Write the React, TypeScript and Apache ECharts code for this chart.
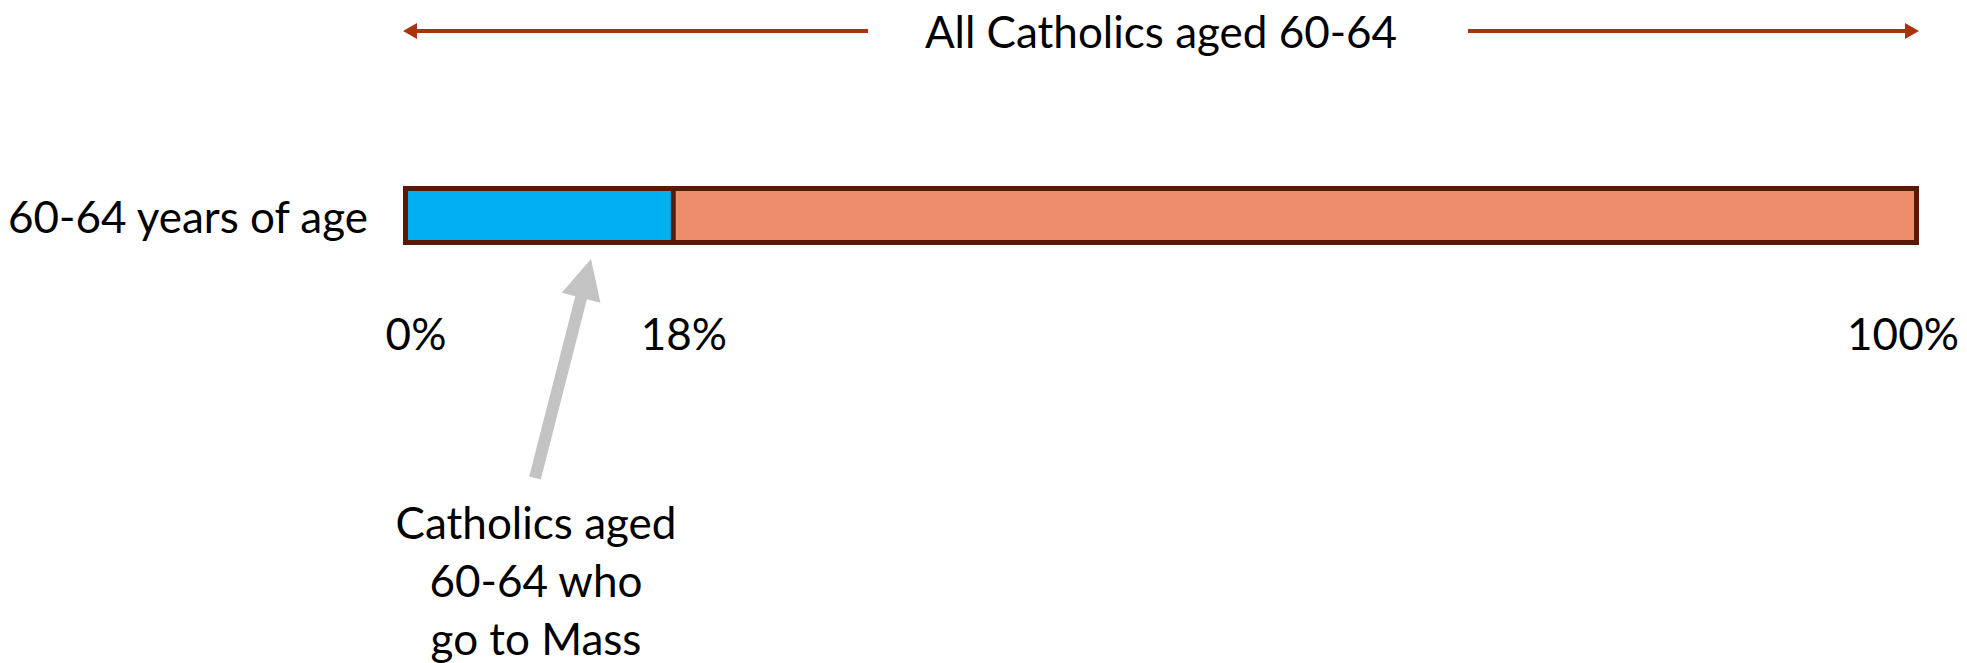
import React, { useEffect, useRef } from "react";
import * as echarts from "echarts";

const categories = ["60-64 years of age"];
const attendValues = [18];
const restValues = [82];
const totalValues = [100];
const tickValues = [0, 18, 100];
const titleText = "All Catholics aged 60-64";
const noteText = "Catholics aged\n60-64 who\ngo to Mass";

const FONT = "Lato, 'Noto Sans', sans-serif";
const FS = 44;
const RED = "#A9340B";
const BORDER = "#5A1806";

export default function App() {
  const ref = useRef<HTMLDivElement>(null);
  useEffect(() => {
    const chart = echarts.init(ref.current!, null, { renderer: "svg" });
    chart.setOption({
      animation: false,
      grid: { left: 403, right: 48, top: 186, height: 59 },
      xAxis: {
        type: "value",
        min: 0,
        max: 100,
        splitLine: { show: false },
        axisLine: { show: false },
        axisTick: { show: false },
        axisLabel: {
          customValues: tickValues,
          margin: 66,
          formatter: (v: number) => {
            const key = v === 0 ? "a" : v === 100 ? "c" : "b";
            return `{${key}|${v}%}`;
          },
          rich: {
            a: { fontSize: FS, color: "#000", fontFamily: FONT, padding: [0, 0, 0, 26] },
            b: { fontSize: FS, color: "#000", fontFamily: FONT, padding: [0, 0, 0, 16] },
            c: { fontSize: FS, color: "#000", fontFamily: FONT, padding: [0, 32, 0, 0] },
          },
        },
      },
      yAxis: {
        type: "category",
        data: categories,
        axisLine: { show: false },
        axisTick: { show: false },
        axisLabel: { fontSize: FS, color: "#000", margin: 35, fontFamily: FONT },
      },
      series: [
        {
          type: "bar",
          stack: "t",
          data: attendValues,
          barWidth: 59,
          barGap: "-100%",
          itemStyle: { color: "#00B0F0", borderColor: BORDER, borderWidth: 5 },
        },
        {
          type: "bar",
          stack: "t",
          data: restValues,
          barWidth: 59,
          barGap: "-100%",
          itemStyle: { color: "#EE8D6B" },
        },
        {
          type: "bar",
          data: totalValues,
          barWidth: 59,
          barGap: "-100%",
          silent: true,
          itemStyle: { color: "rgba(0,0,0,0)", borderColor: BORDER, borderWidth: 5 },
        },
      ],
    });

    const x0 = chart.convertToPixel({ xAxisIndex: 0 }, 0) as number;
    const x100 = chart.convertToPixel({ xAxisIndex: 0 }, 100) as number;
    const xMid = (x0 + x100) / 2;
    const ay = 31;
    const headLen = 14;
    const headHalf = 8;

    // grey arrow
    const base = [535, 478];
    const tip = [591, 259];
    const dx = tip[0] - base[0];
    const dy = tip[1] - base[1];
    const len = Math.hypot(dx, dy);
    const ux = dx / len, uy = dy / len;
    const nx = -uy, ny = ux;
    const hb = [tip[0] - 40 * ux, tip[1] - 40 * uy];
    const sw = 6, hw = 20;
    const greyPts = [
      [base[0] + sw * nx, base[1] + sw * ny],
      [hb[0] + sw * nx, hb[1] + sw * ny],
      [hb[0] + hw * nx, hb[1] + hw * ny],
      tip,
      [hb[0] - hw * nx, hb[1] - hw * ny],
      [hb[0] - sw * nx, hb[1] - sw * ny],
      [base[0] - sw * nx, base[1] - sw * ny],
    ];

    chart.setOption({
      graphic: [
        {
          type: "text",
          x: xMid,
          y: ay,
          style: {
            text: titleText,
            font: `${FS}px ${FONT}`,
            fill: "#000",
            textAlign: "center",
            textVerticalAlign: "middle",
          },
        },
        {
          type: "line",
          shape: { x1: x0 + headLen, y1: ay, x2: 868, y2: ay },
          style: { stroke: RED, lineWidth: 4 },
        },
        {
          type: "polygon",
          shape: { points: [[x0, ay], [x0 + headLen, ay - headHalf], [x0 + headLen, ay + headHalf]] },
          style: { fill: RED },
        },
        {
          type: "line",
          shape: { x1: 1468, y1: ay, x2: x100 - headLen, y2: ay },
          style: { stroke: RED, lineWidth: 4 },
        },
        {
          type: "polygon",
          shape: { points: [[x100, ay], [x100 - headLen, ay - headHalf], [x100 - headLen, ay + headHalf]] },
          style: { fill: RED },
        },
        {
          type: "polygon",
          shape: { points: greyPts },
          style: { fill: "#C4C3C4" },
        },
        {
          type: "text",
          x: 536,
          y: 493,
          style: {
            text: noteText,
            font: `${FS}px ${FONT}`,
            lineHeight: 58,
            fill: "#000",
            textAlign: "center",
            textVerticalAlign: "top",
          },
        },
      ],
    });

    return () => chart.dispose();
  }, []);

  return (
    <div style={{ position: "absolute", left: 0, top: 0 }}>
      <div ref={ref} style={{ width: 1967, height: 663 }} />
    </div>
  );
}
